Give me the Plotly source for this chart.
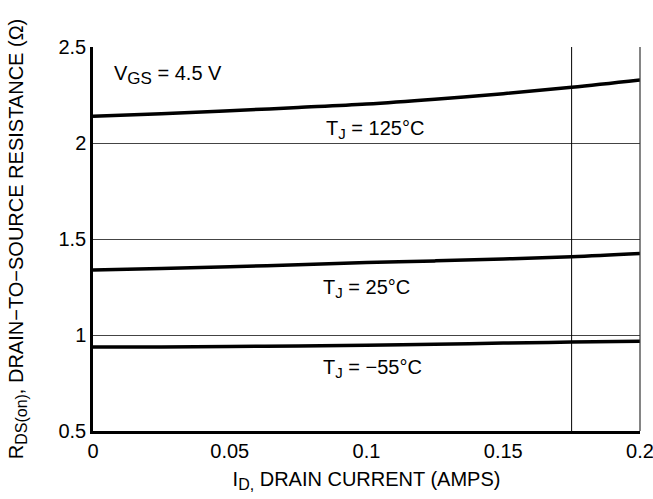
import plotly.graph_objects as go

drain_current = [0.0, 0.025, 0.05, 0.075, 0.1, 0.125, 0.15, 0.175, 0.2]
r_125c = [2.139, 2.152, 2.168, 2.185, 2.203, 2.228, 2.257, 2.290, 2.328]
r_25c = [1.339, 1.347, 1.356, 1.366, 1.377, 1.386, 1.396, 1.408, 1.425]
r_m55c = [0.937, 0.938, 0.940, 0.943, 0.947, 0.952, 0.958, 0.963, 0.968]

x_ticks = [0, 0.05, 0.1, 0.15, 0.2]
x_tick_labels = ["0", "0.05", "0.1", "0.15", "0.2"]
y_ticks = [0.5, 1, 1.5, 2, 2.5]
y_tick_labels = ["0.5", "1", "1.5", "2", "2.5"]
marker_current = 0.175

FONT = "Liberation Sans, Arial, Helvetica, sans-serif"
FS = 20


def sub(t, size=15):
    return f'<sub><span style="font-size:{size}px">{t}</span></sub>'


fig = go.Figure()
for ys in (r_125c, r_25c, r_m55c):
    fig.add_trace(go.Scatter(x=drain_current, y=ys, mode="lines",
                             line=dict(color="black", width=3.5, shape="spline"),
                             showlegend=False, hoverinfo="skip"))

fig.add_shape(type="line", xref="x", yref="paper", x0=marker_current, x1=marker_current,
              y0=0, y1=1, line=dict(color="black", width=1))
fig.add_shape(type="line", xref="paper", yref="paper", x0=1, x1=1, y0=0, y1=1,
              line=dict(color="#333333", width=1.2))

annots = [
    (0.0069, 2.355, "V" + sub("GS", 17) + " = 4.5 V"),
    (0.0845, 2.07, "T" + sub("J") + " = 125°C"),
    (0.0835, 1.24, "T" + sub("J") + " = 25°C"),
    (0.0835, 0.825, "T" + sub("J") + " = −55°C"),
]
for x, y, t in annots:
    fig.add_annotation(x=x, y=y, text=t, showarrow=False, xanchor="left",
                       yanchor="middle", font=dict(size=FS, color="black", family=FONT))

fig.update_layout(
    width=653, height=499,
    margin=dict(l=93, r=13, t=47, b=68),
    paper_bgcolor="white", plot_bgcolor="white",
    font=dict(family=FONT, size=FS, color="black"),
    xaxis=dict(range=[0, 0.2], tickvals=x_ticks, ticktext=x_tick_labels,
               showgrid=False, zeroline=False, showline=True, linecolor="black", linewidth=2.5,
               ticks="", ticklen=0, tickfont=dict(size=FS), automargin=False,
               ticklabeloverflow="allow",
               title=dict(text="I" + sub("D,", 16) + " DRAIN CURRENT (AMPS)", standoff=12,
                          font=dict(size=FS))),
    yaxis=dict(range=[0.5, 2.5], tickvals=y_ticks, ticktext=y_tick_labels,
               showgrid=True, gridcolor="#444444", gridwidth=1, zeroline=False,
               showline=True, linecolor="black", linewidth=2.5, ticks="", ticklen=0,
               tickfont=dict(size=FS), automargin=False,
               title=dict(text="R" + sub("DS(on)", 16) + ", DRAIN−TO−SOURCE RESISTANCE (Ω)",
                          standoff=30, font=dict(size=FS))),
)

fig.write_html("out.html", config={"displayModeBar": False},
               post_script="document.body.style.margin='0';document.body.style.overflow='hidden';")
